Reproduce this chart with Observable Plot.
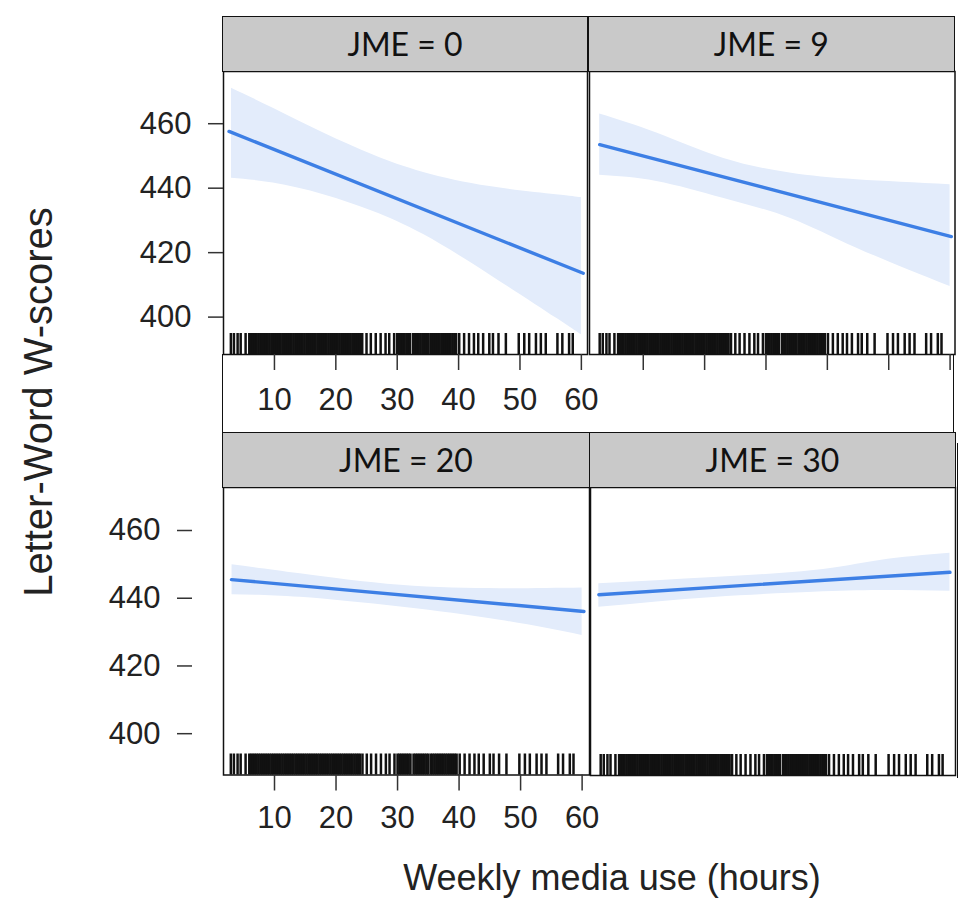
<!DOCTYPE html>
<html>
<head>
<meta charset="utf-8">
<script src="https://cdn.jsdelivr.net/npm/d3@7"></script>
<script src="https://cdn.jsdelivr.net/npm/@observablehq/plot@0.6"></script>
<style>
  html, body { margin: 0; padding: 0; background: #fff; }
  #wrap { position: relative; width: 974px; height: 916px; overflow: hidden; background: #fff; }
  #wrap svg { position: absolute; overflow: visible; }
  .strip { position: absolute; box-sizing: border-box; background: #c9c9c9; border: 1.5px solid #111;
           display: flex; align-items: center; justify-content: center;
           font-family: Lato, "Open Sans", sans-serif; font-size: 32px; color: #111; }
  .vline { position: absolute; width: 0; border-left: 1.5px solid #111; }
  .title { position: absolute; font-family: "Liberation Sans", Arial, sans-serif; color: #222; white-space: nowrap; }
</style>
</head>
<body>
<div id="wrap"></div>
<script>
// ---- data ----
const panelLabels = ["JME = 0", "JME = 9", "JME = 20", "JME = 30"];
const yTicks = [400, 420, 440, 460];
const xTicks = [10, 20, 30, 40, 50, 60];

// fitted lines (hours, W-score)
const fitJME0  = [{x: 2.6, y: 457.6}, {x: 60.3, y: 413.6}];
const fitJME9  = [{x: 2.9, y: 453.5}, {x: 60.2, y: 425.0}];
const fitJME20 = [{x: 3.0, y: 445.5}, {x: 60.3, y: 436.1}];
const fitJME30 = [{x: 2.6, y: 441.1}, {x: 59.8, y: 447.7}];

// confidence bands
const bandJME0 = [
  {x: 3.0, lo: 443.1, hi: 471.0}, {x: 9.8, lo: 441.6, hi: 464.8}, {x: 18.0, lo: 438.0, hi: 457.1},
  {x: 26.1, lo: 432.8, hi: 450.3}, {x: 34.3, lo: 425.6, hi: 444.9}, {x: 45.1, lo: 413.1, hi: 440.5},
  {x: 55.9, lo: 399.7, hi: 438.0}, {x: 60.0, lo: 394.5, hi: 437.1}];
const bandJME9 = [
  {x: 2.9, lo: 444.0, hi: 463.0}, {x: 12.2, lo: 442.1, hi: 457.1}, {x: 23.0, lo: 436.9, hi: 449.3},
  {x: 33.9, lo: 430.7, hi: 444.7}, {x: 44.8, lo: 421.4, hi: 442.6}, {x: 60.0, lo: 409.5, hi: 441.1}];
const bandJME20 = [
  {x: 3.1, lo: 441.0, hi: 449.9}, {x: 14.2, lo: 440.3, hi: 447.2}, {x: 30.5, lo: 437.4, hi: 443.8},
  {x: 46.7, lo: 433.5, hi: 442.8}, {x: 60.0, lo: 429.0, hi: 443.0}];
const bandJME30 = [
  {x: 2.6, lo: 437.4, hi: 444.3}, {x: 21.3, lo: 440.3, hi: 446.2}, {x: 37.6, lo: 441.8, hi: 448.2},
  {x: 48.4, lo: 442.3, hi: 451.2}, {x: 59.8, lo: 442.1, hi: 453.3}];

// rug of observed weekly media use (hours)
const rugHours = [2.9, 3.4, 4.0, 4.5, 5.3, 5.9, 6.2, 6.5, 6.8, 7.1, 7.4, 7.7, 8.0, 8.3, 8.6, 8.9,
  9.2, 9.5, 9.8, 10.1, 10.4, 10.7, 11.0, 11.3, 11.6, 11.9, 12.2, 12.5, 12.8, 13.1, 13.4, 13.7,
  14.0, 14.3, 14.6, 14.9, 15.2, 15.5, 15.8, 16.1, 16.4, 16.7, 17.0, 17.3, 17.6, 17.9, 18.2, 18.5,
  18.8, 19.1, 19.4, 19.7, 20.0, 20.3, 20.6, 20.9, 21.2, 21.5, 21.8, 22.1, 22.4, 22.7, 23.0, 23.3,
  23.6, 23.9, 24.3, 25.0, 25.7, 26.5, 27.3, 28.1, 28.7, 29.5, 30.0, 30.3, 30.6, 30.9, 31.2, 31.5,
  31.8, 32.1, 32.6, 32.9, 33.2, 33.5, 33.8, 34.1, 34.4, 34.7, 35.0, 35.4, 35.7, 36.0, 36.3, 36.6,
  36.9, 37.2, 37.5, 37.8, 38.1, 38.4, 38.7, 39.0, 39.3, 39.6, 40.1, 40.9, 41.7, 42.5, 43.2, 44.0,
  45.0, 45.6, 46.5, 47.7, 49.8, 50.7, 51.5, 52.6, 53.4, 54.2, 56.1, 56.9, 58.0, 58.6];

// ---- layout ----
const wrap = document.getElementById("wrap");
const mL = 140, mR = 40, mT = 5, mB = 75;
const lineColor = "#3d7fe5", bandColor = "#e3ecfb", tickColor = "#333";

function addPanel(p) {
  const w = p.right - p.left, h = p.bottom - p.top;
  const marks = [
    Plot.areaY(p.band, {x: "x", y1: "lo", y2: "hi", fill: bandColor, curve: "natural"}),
    Plot.ruleX(rugHours, {stroke: "#111", strokeWidth: 2.5, insetTop: h - 21}),
    Plot.line(p.fit, {x: "x", y: "y", stroke: lineColor, strokeWidth: 3.4}),
    Plot.frame({stroke: "#111", strokeWidth: 1.5})
  ];
  if (p.yAxis) marks.push(Plot.axisY({ticks: yTicks, anchor: "left", label: null, tickSize: 15,
      tickPadding: 17, dx: p.yDx || 0, stroke: tickColor, strokeWidth: 1.5}));
  if (p.xAxis === "full") marks.push(Plot.axisX({ticks: xTicks, anchor: "bottom", label: null,
      tickSize: 16, tickPadding: p.xPad, stroke: tickColor, strokeWidth: 1.5}));
  if (p.xAxis === "ticks") marks.push(Plot.axisX({ticks: xTicks, anchor: "bottom", label: null,
      tickFormat: () => "", tickSize: 16, stroke: tickColor, strokeWidth: 1.5}));
  const svg = Plot.plot({
    width: w + mL + mR, height: h + mT + mB,
    marginLeft: mL, marginRight: mR, marginTop: mT, marginBottom: mB,
    x: {domain: p.xDomain, axis: null},
    y: {domain: p.yDomain, axis: null},
    style: {fontFamily: "'Liberation Sans', Arial, sans-serif", fontSize: "31px", color: "#222",
            background: "transparent", overflow: "visible"},
    marks
  });
  svg.style.left = (p.left - mL) + "px";
  svg.style.top = (p.top - mT) + "px";
  wrap.appendChild(svg);
  const s = document.createElement("div");
  s.className = "strip";
  s.textContent = p.label;
  Object.assign(s.style, {left: (p.left - 0.75) + "px", top: p.stripTop + "px",
    width: (w + 1.5) + "px", height: (p.top - p.stripTop + 0.75) + "px"});
  wrap.appendChild(s);
}

addPanel({label: panelLabels[0], left: 223, right: 587, top: 71, bottom: 354, stripTop: 16,
  xDomain: [1.7, 61.0], yDomain: [388.4, 476.2], band: bandJME0, fit: fitJME0,
  yAxis: true, xAxis: "full", xPad: 17});
addPanel({label: panelLabels[1], left: 588.5, right: 954, top: 71, bottom: 354, stripTop: 16,
  xDomain: [1.24, 60.8], yDomain: [388.4, 476.2], band: bandJME9, fit: fitJME9,
  yAxis: false, xAxis: "ticks"});
addPanel({label: panelLabels[2], left: 223, right: 589, top: 487, bottom: 774.5, stripTop: 432,
  xDomain: [1.71, 61.2], yDomain: [387.8, 472.7], band: bandJME20, fit: fitJME20,
  yAxis: true, yDx: -31, xAxis: "full", xPad: 15});
addPanel({label: panelLabels[3], left: 590, right: 955, top: 487, bottom: 775, stripTop: 432,
  xDomain: [1.24, 60.7], yDomain: [387.8, 472.7], band: bandJME30, fit: fitJME30,
  yAxis: false, xAxis: null});

// connecting borders of the top row's axis area
for (const [x, y1, y2] of [[222.3, 354, 433], [953.3, 354, 433], [956.5, 443, 778]]) {
  const v = document.createElement("div");
  v.className = "vline";
  Object.assign(v.style, {left: x + "px", top: y1 + "px", height: (y2 - y1) + "px"});
  wrap.appendChild(v);
}

// axis titles
const yt = document.createElement("div");
yt.className = "title";
yt.textContent = "Letter-Word W-scores";
Object.assign(yt.style, {left: "38px", top: "402px", fontSize: "40px",
  transform: "translate(-50%, -50%) rotate(-90deg)"});
wrap.appendChild(yt);
const xt = document.createElement("div");
xt.className = "title";
xt.textContent = "Weekly media use (hours)";
Object.assign(xt.style, {left: "612px", top: "878px", fontSize: "36px",
  transform: "translate(-50%, -50%)"});
wrap.appendChild(xt);
</script>
</body>
</html>
